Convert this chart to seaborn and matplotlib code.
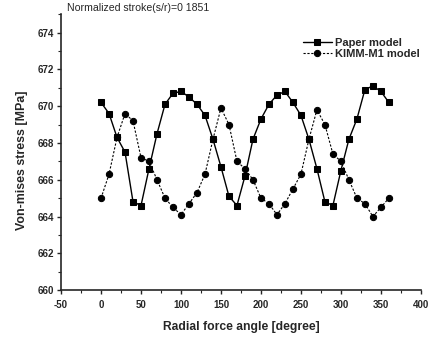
import numpy as np
import pandas as pd
import matplotlib
matplotlib.use("Agg")
import matplotlib.pyplot as plt
import seaborn as sns
from matplotlib.ticker import MultipleLocator

# data
angle = list(range(0, 361, 10))
paper_model = [670.2, 669.6, 668.3, 667.5, 664.8, 664.6, 666.6, 668.5, 670.1, 670.7,
               670.8, 670.5, 670.1, 669.5, 668.2, 666.7, 665.1, 664.6, 666.2, 668.2,
               669.3, 670.1, 670.6, 670.8, 670.2, 669.5, 668.2, 666.6, 664.8, 664.6,
               666.5, 668.2, 669.3, 670.9, 671.1, 670.8, 670.2]
kimm_model = [665.0, 666.3, 668.3, 669.6, 669.2, 667.2, 667.0, 666.0, 665.0, 664.5,
              664.1, 664.7, 665.3, 666.3, 668.2, 669.9, 669.0, 667.0, 666.6, 666.0,
              665.0, 664.7, 664.1, 664.7, 665.5, 666.3, 668.2, 669.8, 669.0, 667.4,
              667.0, 666.0, 665.0, 664.7, 664.0, 664.5, 665.0]

df = pd.DataFrame({"angle": angle, "Paper model": paper_model, "KIMM-M1 model": kimm_model})

sns.set_style("ticks")
plt.rcParams['font.family'] = ['Liberation Sans', 'DejaVu Sans']
plt.rcParams['axes.unicode_minus'] = False

fig = plt.figure(figsize=(4.33, 3.37), dpi=100)
ax = fig.add_axes([0.141, 0.139, 0.831, 0.819])

sns.lineplot(data=df, x="angle", y="Paper model", ax=ax, color="black", lw=1.0,
             marker="s", markersize=4.5, markeredgecolor="black", label="Paper model")
sns.lineplot(data=df, x="angle", y="KIMM-M1 model", ax=ax, color="black", lw=0.8,
             linestyle=(0, (2, 1.5)), marker="o", markersize=4.5,
             markeredgecolor="black", label="KIMM-M1 model")

ax.set_xlim(-50, 400)
ax.set_ylim(660, 675)
ax.set_yticks([660, 662, 664, 666, 668, 670, 672, 674])
ax.xaxis.set_major_locator(MultipleLocator(50))
ax.xaxis.set_minor_locator(MultipleLocator(25))
ax.yaxis.set_minor_locator(MultipleLocator(1))
ax.tick_params(which="major", length=3, width=1, labelsize=7, pad=2)
ax.tick_params(axis="x", which="major", pad=4)
ax.tick_params(which="minor", length=2, width=0.8)
for lab in ax.get_xticklabels() + ax.get_yticklabels():
    lab.set_fontweight("bold")

sns.despine(ax=ax)
ax.spines["left"].set_linewidth(1.2)
ax.spines["bottom"].set_linewidth(1.2)

ax.set_xlabel("Radial force angle [degree]", fontsize=8.7, fontweight="bold", labelpad=8)
ax.set_ylabel("Von-mises stress [MPa]", fontsize=8.9, fontweight="bold")
ax.yaxis.set_label_coords(-0.092, 0.47)
fig.text(0.155, 0.99, "Normalized stroke(s/r)=0 1851", fontsize=7.6, va="top", ha="left")

leg = ax.legend(loc="upper right", bbox_to_anchor=(1.025, 0.95), frameon=False,
                fontsize=8, handlelength=2.6, handletextpad=0.3, labelspacing=0.1)
for t in leg.get_texts():
    t.set_fontweight("bold")

plt.savefig("out.png", dpi=100)
